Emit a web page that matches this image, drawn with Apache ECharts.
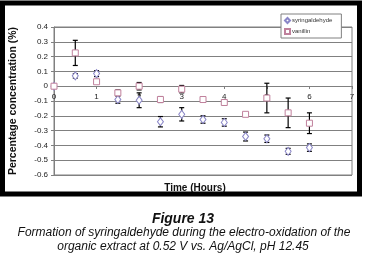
<!DOCTYPE html>
<html>
<head>
<meta charset="utf-8">
<script src="https://cdn.jsdelivr.net/npm/echarts@6/dist/echarts.min.js"></script>
<style>
  html, body { margin: 0; padding: 0; background: #fff; }
  #chart { width: 367px; height: 257px; }
</style>
</head>
<body>
<div id="chart"></div>
<script>
// time points (hours)
const hours = [0, 0.5, 1, 1.5, 2, 2.5, 3, 3.5, 4, 4.5, 5, 5.5, 6];
// syringaldehyde mean and error
const syrMean = [0, 0.07, 0.085, -0.09, -0.095, -0.24, -0.19, -0.225, -0.245, -0.34, -0.355, -0.44, -0.415];
const syrErr = [0, 0.015, 0.02, 0.025, 0.05, 0.035, 0.045, 0.025, 0.025, 0.03, 0.025, 0.02, 0.025];
// vanillin mean and error
const vanMean = [0, 0.225, 0.03, -0.045, 0, -0.09, -0.02, -0.09, -0.11, -0.19, -0.08, -0.18, -0.25];
const vanErr = [0, 0.085, 0, 0.02, 0.025, 0.02, 0.025, 0.005, 0.015, 0.005, 0.1, 0.1, 0.07];
const xTicks = [0, 1, 2, 3, 4, 5, 6, 7];
const yTicks = [-0.6, -0.5, -0.4, -0.3, -0.2, -0.1, 0, 0.1, 0.2, 0.3, 0.4];

const chart = echarts.init(document.getElementById('chart'));

function errData(means, errs) {
  const out = [];
  hours.forEach(function(h, i) {
    if (errs[i] > 0) out.push([h, means[i] - errs[i], means[i] + errs[i]]);
  });
  return out;
}

function renderErr(params, api) {
  const x = api.value(0);
  const top = api.coord([x, api.value(2)]);
  const bot = api.coord([x, api.value(1)]);
  const w = 2.5;
  const style = { stroke: '#000', lineWidth: 1.2 };
  return {
    type: 'group',
    children: [
      { type: 'line', shape: { x1: top[0], y1: top[1], x2: bot[0], y2: bot[1] }, style: style },
      { type: 'line', shape: { x1: top[0] - w, y1: top[1], x2: top[0] + w, y2: top[1] }, style: style },
      { type: 'line', shape: { x1: bot[0] - w, y1: bot[1], x2: bot[0] + w, y2: bot[1] }, style: style }
    ]
  };
}

const font = 'Liberation Sans, Arial, sans-serif';

const option = {
  animation: false,
  textStyle: { fontFamily: font },
  grid: { left: 49, right: 15, top: 27, bottom: 82, show: true, borderColor: '#808080', borderWidth: 1 },
  legend: {
    left: 281, top: 14, orient: 'vertical',
    data: ['syringaldehyde', 'vanillin'],
    itemWidth: 5, itemHeight: 5, itemGap: 4,
    padding: [3, 9, 3, 3],
    borderColor: '#808080', borderWidth: 1, backgroundColor: '#fff',
    textStyle: { fontSize: 6, color: '#333', fontFamily: font, padding: [0, 0, 0, -3] }
  },
  xAxis: {
    type: 'value', min: 0, max: 7, interval: 1,
    // axis crosses y at 0 (grid height 148px, zero sits 89px above the bottom)
    offset: -89,
    axisLine: { show: true, onZero: false, lineStyle: { color: '#808080', width: 1 } },
    axisTick: { show: true, length: 3, lineStyle: { color: '#808080' } },
    axisLabel: { fontSize: 8, color: '#222', margin: 7,
      formatter: function(v) { return xTicks.indexOf(v) >= 0 ? String(v) : ''; } },
    splitLine: { show: false }
  },
  yAxis: {
    type: 'value', min: -0.6, max: 0.4, interval: 0.1,
    name: 'Percentage concentration (%)', nameLocation: 'middle', nameGap: 35,
    nameTextStyle: { fontSize: 10.5, fontWeight: 'bold', color: '#111' },
    axisLine: { show: true, onZero: false, lineStyle: { color: '#808080' } },
    axisTick: { show: true, length: 3, lineStyle: { color: '#808080' } },
    axisLabel: { fontSize: 8, color: '#222', margin: 6,
      formatter: function(v) {
        const r = Math.round(v * 10) / 10;
        return yTicks.indexOf(r) >= 0 ? String(r) : '';
      } },
    splitLine: { show: true, lineStyle: { color: '#808080', width: 1 } }
  },
  series: [
    { type: 'custom', name: 'errSyr', renderItem: renderErr, data: errData(syrMean, syrErr), z: 2, silent: true },
    { type: 'custom', name: 'errVan', renderItem: renderErr, data: errData(vanMean, vanErr), z: 2, silent: true },
    {
      type: 'scatter', name: 'syringaldehyde', symbol: 'diamond', symbolSize: [6, 8],
      data: hours.map(function(h, i) { return [h, syrMean[i]]; }),
      itemStyle: { color: '#fff', borderColor: '#8a86c8', borderWidth: 1, opacity: 1 }, z: 3
    },
    {
      type: 'scatter', name: 'vanillin', symbol: 'rect', symbolSize: 6,
      data: hours.map(function(h, i) { return [h, vanMean[i]]; }),
      itemStyle: { color: '#fff', borderColor: '#c0809c', borderWidth: 1, opacity: 1 }, z: 4
    }
  ],
  graphic: [
    { type: 'rect', shape: { x: 2.5, y: 3, width: 357, height: 191 }, style: { fill: 'none', stroke: '#000', lineWidth: 5 }, z: 10 },
    { type: 'text', x: 195, y: 188, style: { text: 'Time (Hours)', font: 'bold 10px ' + font, fill: '#111', textAlign: 'center', textVerticalAlign: 'middle' } },
    { type: 'text', x: 183, y: 219, style: { text: 'Figure 13', font: 'italic bold 14px ' + font, fill: '#111', textAlign: 'center', textVerticalAlign: 'middle' } },
    { type: 'text', x: 184, y: 233, style: { text: 'Formation of syringaldehyde during the electro-oxidation of the', font: 'italic 12px ' + font, fill: '#111', textAlign: 'center', textVerticalAlign: 'middle' } },
    { type: 'text', x: 183, y: 247, style: { text: 'organic extract at 0.52 V vs. Ag/AgCl, pH 12.45', font: 'italic 12px ' + font, fill: '#111', textAlign: 'center', textVerticalAlign: 'middle' } }
  ]
};

chart.setOption(option);
</script>
</body>
</html>
